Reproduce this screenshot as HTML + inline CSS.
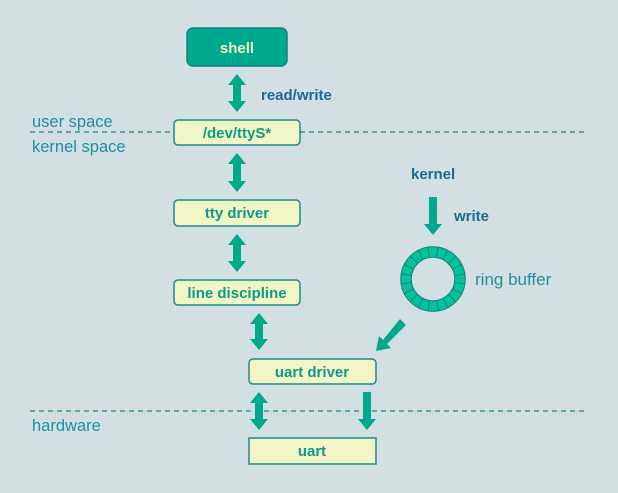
<!DOCTYPE html>
<html><head><meta charset="utf-8"><style>
html,body{margin:0;padding:0;background:#d3e0e3;}
svg{display:block;font-family:"Liberation Sans",sans-serif;}
</style></head><body>
<svg width="618" height="493" viewBox="0 0 618 493" xmlns="http://www.w3.org/2000/svg">
<rect width="618" height="493" fill="#d3e0e3"/>
<g stroke="#1b7f8c" stroke-width="1.2" stroke-dasharray="5,4">
<line x1="30" y1="132" x2="586" y2="132"/>
<line x1="30" y1="411" x2="586" y2="411"/>
</g>
<g fill="#1f8ea0" font-size="16.5">
<text x="32" y="127">user space</text>
<text x="32" y="152">kernel space</text>
<text x="32" y="431">hardware</text>
<text x="475" y="285" font-size="17">ring buffer</text>
</g>
<g fill="#1d6891" font-size="15" font-weight="bold">
<text x="261" y="100">read/write</text>
<text x="411" y="179">kernel</text>
<text x="454" y="221">write</text>
</g>
<rect x="187" y="28" width="100" height="38" rx="6" fill="#00a88e" stroke="#13808a" stroke-width="1.5"/>
<text x="237" y="53" text-anchor="middle" fill="#f2f5c4" font-size="15" font-weight="bold">shell</text>
<g fill="#f2f5c4" stroke="#1b8a8e" stroke-width="1.5">
<rect x="174" y="120" width="126" height="25" rx="4"/>
<rect x="174" y="200" width="126" height="26" rx="4"/>
<rect x="174" y="280" width="126" height="25" rx="4"/>
<rect x="249" y="359" width="127" height="25" rx="4"/>
<rect x="249" y="438" width="127" height="26"/>
</g>
<g fill="#0e9a8a" font-size="15" font-weight="bold" text-anchor="middle">
<text x="237" y="138">/dev/ttyS*</text>
<text x="237" y="218">tty driver</text>
<text x="237" y="298">line discipline</text>
<text x="312" y="377">uart driver</text>
<text x="312" y="456">uart</text>
</g>
<g fill="#00a88e">
<polygon points="237,74 246,85 241,85 241,101 246,101 237,112 228,101 233,101 233,85 228,85"/>
<polygon points="237,153 246,164 241,164 241,181 246,181 237,192 228,181 233,181 233,164 228,164"/>
<polygon points="237,234 246,245 241,245 241,261 246,261 237,272 228,261 233,261 233,245 228,245"/>
<polygon points="259,313 268,324 263,324 263,339 268,339 259,350 250,339 255,339 255,324 250,324"/>
<polygon points="259,392 268,403 263,403 263,419 268,419 259,430 250,419 255,419 255,403 250,403"/>
<polygon points="363,392 371,392 371,419 376,419 367,430 358,419 363,419"/>
<polygon points="429,197 437,197 437,224 442,224 433,235 424,224 429,224"/>
<polygon points="400,319 406,325 387,344 391,348 376,351 379,336 383,340"/>
</g>
<circle cx="433" cy="279" r="27" fill="none" stroke="#1a7a80" stroke-width="11.5"/>
<circle cx="433" cy="279" r="27" fill="none" stroke="#00c49a" stroke-width="9.5"/>
<g stroke="#1a7a80" stroke-width="1">
<line x1="433" y1="247" x2="433" y2="257" transform="rotate(9 433 279)"/>
<line x1="433" y1="247" x2="433" y2="257" transform="rotate(27 433 279)"/>
<line x1="433" y1="247" x2="433" y2="257" transform="rotate(45 433 279)"/>
<line x1="433" y1="247" x2="433" y2="257" transform="rotate(63 433 279)"/>
<line x1="433" y1="247" x2="433" y2="257" transform="rotate(81 433 279)"/>
<line x1="433" y1="247" x2="433" y2="257" transform="rotate(99 433 279)"/>
<line x1="433" y1="247" x2="433" y2="257" transform="rotate(117 433 279)"/>
<line x1="433" y1="247" x2="433" y2="257" transform="rotate(135 433 279)"/>
<line x1="433" y1="247" x2="433" y2="257" transform="rotate(153 433 279)"/>
<line x1="433" y1="247" x2="433" y2="257" transform="rotate(171 433 279)"/>
<line x1="433" y1="247" x2="433" y2="257" transform="rotate(189 433 279)"/>
<line x1="433" y1="247" x2="433" y2="257" transform="rotate(207 433 279)"/>
<line x1="433" y1="247" x2="433" y2="257" transform="rotate(225 433 279)"/>
<line x1="433" y1="247" x2="433" y2="257" transform="rotate(243 433 279)"/>
<line x1="433" y1="247" x2="433" y2="257" transform="rotate(261 433 279)"/>
<line x1="433" y1="247" x2="433" y2="257" transform="rotate(279 433 279)"/>
<line x1="433" y1="247" x2="433" y2="257" transform="rotate(297 433 279)"/>
<line x1="433" y1="247" x2="433" y2="257" transform="rotate(315 433 279)"/>
<line x1="433" y1="247" x2="433" y2="257" transform="rotate(333 433 279)"/>
<line x1="433" y1="247" x2="433" y2="257" transform="rotate(351 433 279)"/>
</g>
</svg>
</body></html>
